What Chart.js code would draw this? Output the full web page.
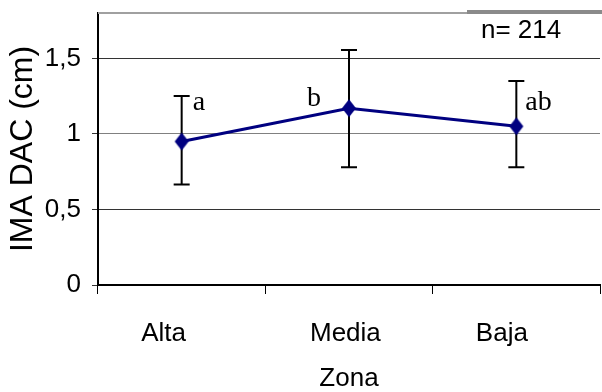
<!DOCTYPE html>
<html>
<head>
<meta charset="utf-8">
<script src="https://cdn.jsdelivr.net/npm/chart.js@4"></script>
<style>
  html, body { margin: 0; padding: 0; background: #fff; overflow: hidden; }
</style>
</head>
<body>
<canvas id="zonaChart" width="612" height="392"></canvas>
<script>
const zonas = ["Alta", "Media", "Baja"];
const imaMedia = [0.95, 1.17, 1.05];
const errSup = [1.25, 1.555, 1.35];
const errInf = [0.665, 0.78, 0.78];
const letras = ["a", "b", "ab"];
const yTicks = [0, 0.5, 1, 1.5];
const nTexto = "n= 214";

// rombo algo mas alto que ancho, como el original
function makeDiamond() {
    const c = document.createElement("canvas");
    c.width = 16; c.height = 20;
    const g = c.getContext("2d");
    g.fillStyle = "#000080";
    g.beginPath();
    g.moveTo(8, 1); g.lineTo(15, 10); g.lineTo(8, 19); g.lineTo(1, 10);
    g.closePath();
    g.fill();
    return c;
}

const errorBars = {
    id: "errorBars",
    beforeDatasetsDraw(chart) {
        const { ctx, scales: { x, y } } = chart;
        ctx.save();
        ctx.strokeStyle = "#000";
        ctx.lineWidth = 2;
        zonas.forEach((z, i) => {
            const px = x.getPixelForValue(i);
            const top = y.getPixelForValue(errSup[i]);
            const bot = y.getPixelForValue(errInf[i]);
            ctx.beginPath();
            ctx.moveTo(px, top); ctx.lineTo(px, bot);
            ctx.moveTo(px - 8, top); ctx.lineTo(px + 8, top);
            ctx.moveTo(px - 8, bot); ctx.lineTo(px + 8, bot);
            ctx.stroke();
        });
        ctx.restore();
    }
};

const extras = {
    id: "extras",
    afterDraw(chart) {
        const { ctx, chartArea, scales: { x, y } } = chart;
        ctx.save();
        // borde superior del area
        ctx.strokeStyle = "#a0a0a0";
        ctx.lineWidth = 2;
        ctx.beginPath();
        ctx.moveTo(chartArea.left, chartArea.top);
        ctx.lineTo(chart.width, chartArea.top);
        ctx.stroke();
        // borde del cuadro de leyenda
        ctx.strokeStyle = "#8a8a8a";
        ctx.lineWidth = 4;
        ctx.beginPath();
        ctx.moveTo(467, chartArea.top - 1);
        ctx.lineTo(chart.width, chartArea.top - 1);
        ctx.stroke();
        ctx.fillStyle = "#000";
        ctx.font = "26px 'Liberation Sans', Arial, sans-serif";
        ctx.textBaseline = "alphabetic";
        ctx.fillText(nTexto, 481, 38);

        // letras de significancia
        const off = [[11, 1.156], [-42, 1.183], [9, 1.156]];
        ctx.font = "28px 'Liberation Serif', 'Times New Roman', serif";
        letras.forEach((t, i) => {
            ctx.fillText(t, x.getPixelForValue(i) + off[i][0], y.getPixelForValue(off[i][1]));
        });
        ctx.restore();
    }
};

// las etiquetas del original no quedan centradas bajo cada punto
const labelPad = [5, 1, 4];

new Chart(document.getElementById("zonaChart"), {
    type: "line",
    data: {
        labels: zonas,
        datasets: [{
            data: imaMedia,
            borderColor: "#000080",
            borderWidth: 3,
            pointStyle: makeDiamond(),
            pointRadius: 9,
            tension: 0
        }]
    },
    options: {
        responsive: false,
        animation: false,
        layout: { padding: { top: 13, right: 1, left: 0, bottom: 0 } },
        plugins: { legend: { display: false }, tooltip: { enabled: false } },
        scales: {
            x: {
                offset: true,
                afterFit: s => { s.height = 107; s.paddingLeft = 0; s.paddingRight = 0; },
                grid: { offset: true, drawOnChartArea: false, tickLength: 9, tickColor: "#000", tickWidth: 1 },
                border: { color: "#000", width: 2 },
                ticks: {
                    color: "#000", padding: 24,
                    font: { family: "'Liberation Sans', Arial, sans-serif", size: 26 },
                    callback: (v, i) => zonas[i] + " ".repeat(labelPad[i])
                },
                title: { display: true, text: "Zona", color: "#000", padding: 0,
                         font: { family: "'Liberation Sans', Arial, sans-serif", size: 26, lineHeight: 1.05 } }
            },
            y: {
                min: 0,
                max: 1.8,
                afterFit: s => { s.width = 98; s.paddingTop = 0; s.paddingBottom = 0; },
                afterBuildTicks: s => { s.ticks = yTicks.map(v => ({ value: v })); },
                grid: {
                    color: c => (c.tick && c.tick.value === 1 ? "#808080" : "#333"),
                    tickColor: "#333",
                    tickLength: 6,
                    lineWidth: 1
                },
                border: { color: "#000", width: 2 },
                ticks: {
                    color: "#000",
                    padding: 11,
                    font: { family: "'Liberation Sans', Arial, sans-serif", size: 26 },
                    callback: v => String(v).replace(".", ",")
                },
                title: { display: true, text: "IMA DAC (cm)", color: "#000", padding: { top: 4, bottom: 0 },
                         font: { family: "'Liberation Sans', Arial, sans-serif", size: 32 } }
            }
        }
    },
    plugins: [errorBars, extras]
});
</script>
</body>
</html>
